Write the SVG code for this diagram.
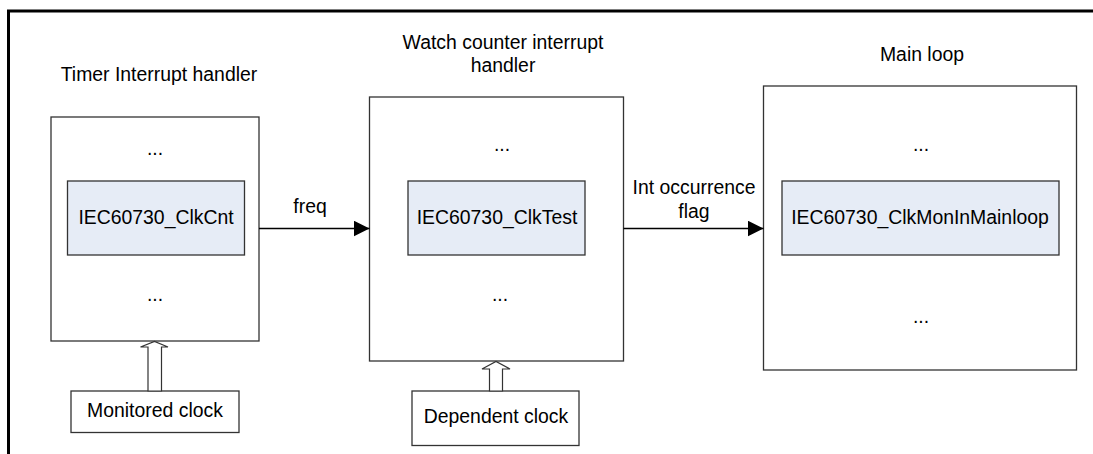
<svg xmlns="http://www.w3.org/2000/svg" width="1093" height="454" viewBox="0 0 1093 454">
<defs>
<style>
text{font-family:"Liberation Sans",Arial,sans-serif;font-size:19.4px;fill:#000;text-anchor:middle}
.box{fill:#fff;stroke:#333;stroke-width:1.3}
.inner{fill:#E6ECF6;stroke:#333;stroke-width:1.3}
.conn{stroke:#000;stroke-width:1.5;fill:none}
.hollow{fill:#fff;stroke:#333;stroke-width:1.2}
</style>
<marker id="ah" viewBox="0 0 10 10" refX="10" refY="5" markerWidth="16" markerHeight="16" markerUnits="userSpaceOnUse" orient="auto">
<path d="M0,0 L10,5 L0,10 Z" fill="#000"/>
</marker>
</defs>
<rect width="1093" height="454" fill="#fff"/>
<path d="M8.5,454 V11 H1093" fill="none" stroke="#000" stroke-width="3"/>

<g id="timer">
<text x="159" y="81">Timer Interrupt handler</text>
<rect class="box" x="51" y="117" width="208" height="224"/>
<text x="155" y="155">...</text>
<rect class="inner" x="67.5" y="181" width="177" height="74"/>
<text x="156" y="224">IEC60730_ClkCnt</text>
<text x="155" y="301">...</text>
</g>

<g id="watch">
<text x="503" y="49">Watch counter interrupt</text>
<text x="503" y="72">handler</text>
<rect class="box" x="369.5" y="97" width="254" height="264"/>
<text x="502" y="151">...</text>
<rect class="inner" x="408" y="181" width="177" height="74"/>
<text x="497" y="224">IEC60730_ClkTest</text>
<text x="500" y="301">...</text>
</g>

<g id="main">
<text x="922" y="61">Main loop</text>
<rect class="box" x="763.5" y="86" width="313" height="284"/>
<text x="921" y="151">...</text>
<rect class="inner" x="782" y="181" width="277" height="74"/>
<text x="920" y="224">IEC60730_ClkMonInMainloop</text>
<text x="921" y="323">...</text>
</g>

<g id="monitored">
<rect class="box" x="71" y="391" width="168" height="41.5"/>
<text x="155" y="417">Monitored clock</text>
</g>

<g id="dependent">
<rect class="box" x="412" y="391" width="167" height="54.5"/>
<text x="496" y="423">Dependent clock</text>
</g>

<g id="connectors">
<line class="conn" x1="259" y1="228.5" x2="369.5" y2="228.5" marker-end="url(#ah)"/>
<text x="310" y="213">freq</text>
<line class="conn" x1="623.5" y1="228.5" x2="763.5" y2="228.5" marker-end="url(#ah)"/>
<text x="694" y="194">Int occurrence</text>
<text x="694" y="218">flag</text>
<path class="hollow" d="M148,391 V347 H140.5 L154.5,341.5 L168,347 H161.5 V391 Z"/>
<path class="hollow" d="M489.5,391 V369 H482 L496,361.5 L510,369 H502.5 V391 Z"/>
</g>
</svg>
